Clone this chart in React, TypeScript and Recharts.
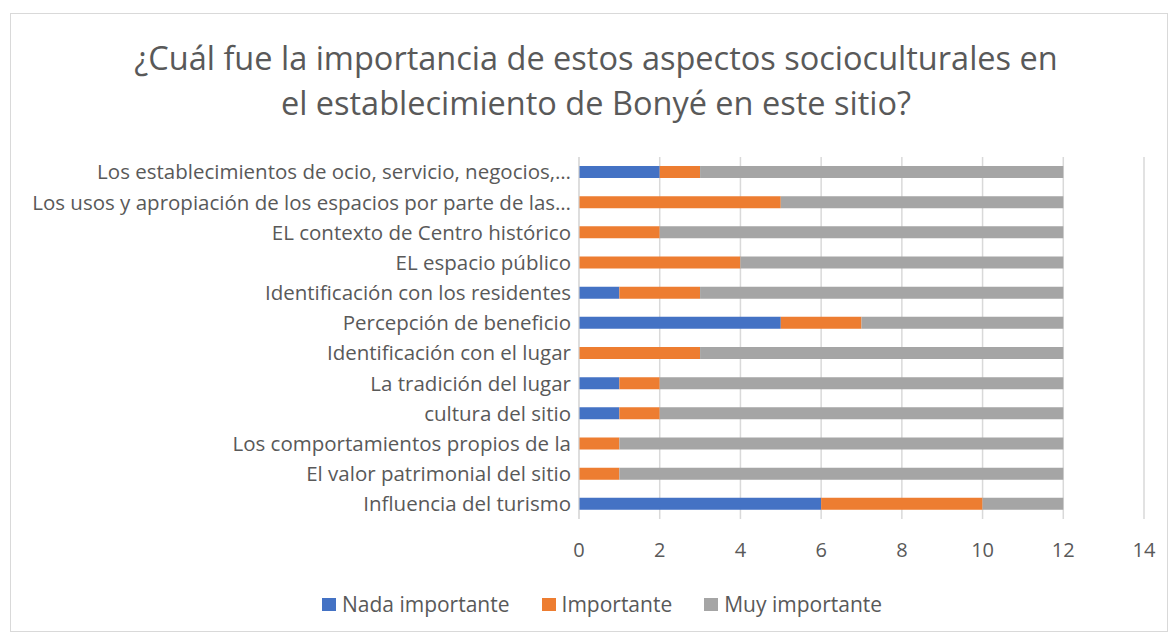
import { BarChart, Bar, XAxis, YAxis, CartesianGrid, Legend } from "recharts"

const CATEGORIES = [
  "Los establecimientos de ocio, servicio, negocios,…",
  "Los usos y apropiación de los espacios por parte de las…",
  "EL contexto de Centro histórico",
  "EL espacio público",
  "Identificación con los residentes",
  "Percepción de beneficio",
  "Identificación con el lugar",
  "La tradición del lugar",
  "cultura del sitio",
  "Los comportamientos propios de la",
  "El valor patrimonial del sitio",
  "Influencia del turismo",
]

const NADA = [2, 0, 0, 0, 1, 5, 0, 1, 1, 0, 0, 6]
const IMPORTANTE = [1, 5, 2, 4, 2, 2, 3, 1, 1, 1, 1, 4]
const MUY = [9, 7, 10, 8, 9, 5, 9, 10, 10, 11, 11, 2]

const X_TICKS = [0, 2, 4, 6, 8, 10, 12, 14]

const SERIES = [
  { key: "nada", name: "Nada importante", color: "#4472C4" },
  { key: "importante", name: "Importante", color: "#ED7D31" },
  { key: "muy", name: "Muy importante", color: "#A5A5A5" },
]

const data = CATEGORIES.map((name, i) => ({
  name,
  nada: NADA[i],
  importante: IMPORTANTE[i],
  muy: MUY[i],
}))

const FONT = "'Open Sans', sans-serif"
const TEXT = "#595959"

function LegendBox() {
  return (
    <div
      style={{
        display: "flex",
        justifyContent: "center",
        gap: 32,
        fontSize: 21,
        color: TEXT,
        fontFamily: FONT,
        lineHeight: "28px",
        paddingLeft: 60,
        marginTop: -2,
      }}
    >
      {SERIES.map((s) => (
        <span key={s.key} style={{ display: "flex", alignItems: "center" }}>
          <span style={{ width: 14, height: 13, background: s.color, marginRight: 6, display: "inline-block" }} />
          {s.name}
        </span>
      ))}
    </div>
  )
}

export default function App() {
  return (
    <div style={{ position: "fixed", left: 0, top: 0, width: 1171, height: 635, background: "#fff", fontFamily: FONT }}>
      <div
        style={{
          position: "absolute",
          left: 10,
          top: 13,
          width: 1158,
          height: 619,
          border: "1px solid #d9d9d9",
          boxSizing: "border-box",
        }}
      />
      <div
        style={{
          position: "absolute",
          left: 0,
          top: 35,
          width: 1192,
          textAlign: "center",
          fontSize: 32.5,
          lineHeight: "45px",
          color: TEXT,
        }}
      >
        ¿Cuál fue la importancia de estos aspectos socioculturales en
        <br />
        el establecimiento de Bonyé en este sitio?
      </div>
      <div style={{ position: "absolute", left: 0, top: 0 }}>
        <BarChart
          width={1171}
          height={635}
          data={data}
          layout="vertical"
          margin={{ top: 157, right: 27, bottom: 0, left: 0 }}
          barSize={12}
        >
          <CartesianGrid horizontal={false} stroke="#d9d9d9" strokeWidth={1.5} />
          <XAxis
            type="number"
            domain={[0, 14]}
            ticks={X_TICKS}
            axisLine={false}
            tickLine={false}
            tick={{ fill: TEXT, fontSize: 20, fontFamily: FONT }}
            tickMargin={18}
            height={73}
          />
          <YAxis
            type="category"
            dataKey="name"
            width={579}
            axisLine={{ stroke: "#d9d9d9" }}
            tickLine={false}
            tick={{ fill: TEXT, fontSize: 20.5, fontFamily: FONT }}
            tickMargin={2}
            interval={0}
          />
          <Legend verticalAlign="bottom" height={43} content={<LegendBox />} />
          {SERIES.map((s) => (
            <Bar key={s.key} dataKey={s.key} name={s.name} stackId="a" fill={s.color} isAnimationActive={false} />
          ))}
        </BarChart>
      </div>
    </div>
  )
}
